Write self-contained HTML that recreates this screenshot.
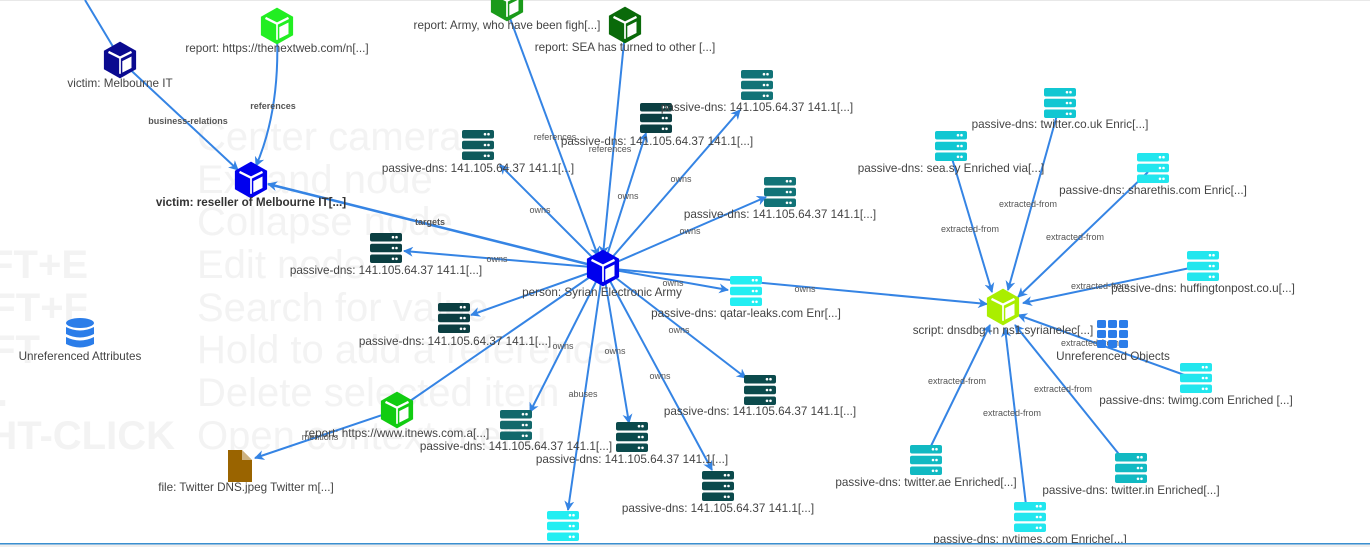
<!DOCTYPE html>
<html><head><meta charset="utf-8"><style>
html,body{margin:0;padding:0;background:#fff;}
svg{display:block;font-family:"Liberation Sans",sans-serif;}
.wm{fill:#f3f3f3;font-size:40px;}
.wb{fill:#f3f3f3;font-size:40px;font-weight:bold;}
.lb{fill:#444;font-size:11.7px;text-anchor:middle;}
.el{fill:#555;font-size:9px;text-anchor:middle;}
.e{stroke:#3584e4;stroke-width:2;fill:none;}
</style></head><body>
<svg width="1370" height="547" viewBox="0 0 1370 547">
<defs>
<marker id="a" markerWidth="10" markerHeight="10" refX="9" refY="5" orient="auto" markerUnits="userSpaceOnUse"><path d="M0,0 L10,5 L0,10 L3,5 z" fill="#3584e4"/></marker>
<g id="cube" transform="scale(1.15)"><polygon points="0,-16 14,-8 14,8 0,16 -14,8 -14,-8"/><polygon points="2,1 10,-3 10,7 2,11" fill="#fff"/><polyline points="-10,-7 0,-2 10,-7" stroke="#fff" stroke-width="2" fill="none"/><line x1="0" y1="-2" x2="0" y2="12" stroke="#fff" stroke-width="1.5"/></g>
<g id="srv"><rect x="-16" y="-15" width="32" height="8.5" rx="2"/><rect x="-16" y="-4.2" width="32" height="8.5" rx="2"/><rect x="-16" y="6.5" width="32" height="8.5" rx="2"/><g fill="#fff"><circle cx="7" cy="-10.8" r="1.3"/><circle cx="10.5" cy="-10.8" r="1.3"/><circle cx="7" cy="0" r="1.3"/><circle cx="10.5" cy="0" r="1.3"/><circle cx="7" cy="10.8" r="1.3"/><circle cx="10.5" cy="10.8" r="1.3"/></g></g>
</defs>
<rect x="0" y="0" width="1370" height="1" fill="#e8e8e8"/>
<g class="wm"><text x="197" y="150">Center camera</text><text x="197" y="193">Expand node</text><text x="197" y="235">Collapse node</text><text x="197" y="278">Edit node</text><text x="197" y="321">Search for value</text><text x="197" y="363">Hold to add a reference</text><text x="197" y="406">Delete selected item</text><text x="197" y="449">Open context menu</text></g>
<g class="wb" text-anchor="end"><text x="88" y="278">FT+E</text><text x="88" y="321">FT+F</text><text x="40" y="363">FT</text><text x="8" y="406">.</text><text x="175" y="449">HT-CLICK</text></g>
<g class="e">
<line x1="85" y1="0" x2="118" y2="55"/>
<line x1="122" y1="62" x2="238" y2="170" marker-end="url(#a)"/>
<path d="M277,34 Q280,110 256,166" marker-end="url(#a)"/>
<line x1="603" y1="268" x2="268" y2="184" marker-end="url(#a)" stroke-width="2.5"/>
<line x1="507" y1="10" x2="598" y2="256" marker-end="url(#a)"/>
<line x1="625" y1="32" x2="603" y2="255" marker-end="url(#a)"/>
<line x1="603" y1="268" x2="500" y2="165" marker-end="url(#a)"/>
<line x1="603" y1="268" x2="646" y2="133" marker-end="url(#a)"/>
<line x1="603" y1="268" x2="740" y2="110" marker-end="url(#a)"/>
<line x1="603" y1="268" x2="766" y2="197" marker-end="url(#a)"/>
<line x1="603" y1="268" x2="404" y2="251" marker-end="url(#a)"/>
<line x1="603" y1="268" x2="728" y2="290" marker-end="url(#a)"/>
<line x1="603" y1="268" x2="987" y2="304" marker-end="url(#a)"/>
<line x1="603" y1="268" x2="471" y2="315" marker-end="url(#a)"/>
<line x1="603" y1="268" x2="397" y2="410"/>
<line x1="397" y1="410" x2="255" y2="458" marker-end="url(#a)"/>
<line x1="603" y1="268" x2="530" y2="412" marker-end="url(#a)"/>
<line x1="603" y1="268" x2="568" y2="510" marker-end="url(#a)"/>
<line x1="603" y1="268" x2="629" y2="423" marker-end="url(#a)"/>
<line x1="603" y1="268" x2="712" y2="470" marker-end="url(#a)"/>
<line x1="603" y1="268" x2="746" y2="378" marker-end="url(#a)"/>
<line x1="951" y1="155" x2="992" y2="292" marker-end="url(#a)"/>
<line x1="1057" y1="115" x2="1008" y2="290" marker-end="url(#a)"/>
<line x1="1148" y1="172" x2="1018" y2="297" marker-end="url(#a)"/>
<line x1="1190" y1="268" x2="1023" y2="303" marker-end="url(#a)"/>
<line x1="1190" y1="377" x2="1018" y2="315" marker-end="url(#a)"/>
<line x1="930" y1="448" x2="990" y2="325" marker-end="url(#a)"/>
<line x1="1026" y1="505" x2="1005" y2="328" marker-end="url(#a)"/>
<line x1="1122" y1="458" x2="1015" y2="325" marker-end="url(#a)"/>
</g>
<g class="el">
<text x="188" y="124" font-weight="bold">business-relations</text>
<text x="273" y="109" font-weight="bold">references</text>
<text x="430" y="225" font-weight="bold">targets</text>
<text x="555" y="140">references</text>
<text x="610" y="152">references</text>
<text x="540" y="213">owns</text>
<text x="628" y="199">owns</text>
<text x="681" y="182">owns</text>
<text x="690" y="234">owns</text>
<text x="497" y="262">owns</text>
<text x="673" y="286">owns</text>
<text x="805" y="292">owns</text>
<text x="563" y="349">owns</text>
<text x="615" y="354">owns</text>
<text x="660" y="379">owns</text>
<text x="679" y="333">owns</text>
<text x="583" y="397">abuses</text>
<text x="320" y="440">mentions</text>
<text x="970" y="232">extracted-from</text>
<text x="1028" y="207">extracted-from</text>
<text x="1075" y="240">extracted-from</text>
<text x="1100" y="289">extracted-from</text>
<text x="1090" y="346">extracted-from</text>
<text x="957" y="384">extracted-from</text>
<text x="1012" y="416">extracted-from</text>
<text x="1063" y="392">extracted-from</text>
</g>
<use href="#cube" x="120" y="60" fill="#0a0a90"/>
<use href="#cube" x="277" y="26" fill="#22ee22"/>
<use href="#cube" x="251" y="180" fill="#0000ee"/>
<use href="#cube" x="507" y="3" fill="#1a9a1a"/>
<use href="#cube" x="625" y="25" fill="#0a6a0a"/>
<use href="#cube" x="603" y="268" fill="#0000ee"/>
<use href="#cube" x="397" y="410" fill="#11cc11"/>
<use href="#cube" x="1003" y="307" fill="#aaee00"/>
<use href="#srv" x="478" y="145" fill="#0f5a5c"/>
<use href="#srv" x="656" y="118" fill="#0b3f42"/>
<use href="#srv" x="757" y="85" fill="#127377"/>
<use href="#srv" x="780" y="192" fill="#127377"/>
<use href="#srv" x="386" y="248" fill="#0b3f42"/>
<use href="#srv" x="454" y="318" fill="#0b3f42"/>
<use href="#srv" x="760" y="390" fill="#0b4a4c"/>
<use href="#srv" x="516" y="425" fill="#12686b"/>
<use href="#srv" x="632" y="437" fill="#0b4a4c"/>
<use href="#srv" x="718" y="486" fill="#0b4a4c"/>
<use href="#srv" x="746" y="291" fill="#22eef2"/>
<use href="#srv" x="563" y="526" fill="#22eef2"/>
<use href="#srv" x="1060" y="103" fill="#11c7d2"/>
<use href="#srv" x="951" y="146" fill="#11c7d2"/>
<use href="#srv" x="1153" y="168" fill="#22e6ee"/>
<use href="#srv" x="1203" y="266" fill="#22e6ee"/>
<use href="#srv" x="1196" y="378" fill="#22e6ee"/>
<use href="#srv" x="926" y="460" fill="#11b9c2"/>
<use href="#srv" x="1030" y="517" fill="#22e6ee"/>
<use href="#srv" x="1131" y="468" fill="#11b9c2"/>
<g fill="#2b7de9"><ellipse cx="80" cy="323" rx="14" ry="5"/><path d="M66,327 q14,7 28,0 v7 q-14,7 -28,0z"/><path d="M66,337 q14,7 28,0 v7 q-14,7 -28,0z"/></g>
<g fill="#2b7de9"><rect x="1097" y="320" width="9" height="8" rx="1.5"/><rect x="1108" y="320" width="9" height="8" rx="1.5"/><rect x="1119" y="320" width="9" height="8" rx="1.5"/><rect x="1097" y="330" width="9" height="8" rx="1.5"/><rect x="1108" y="330" width="9" height="8" rx="1.5"/><rect x="1119" y="330" width="9" height="8" rx="1.5"/><rect x="1097" y="340" width="9" height="8" rx="1.5"/><rect x="1108" y="340" width="9" height="8" rx="1.5"/><rect x="1119" y="340" width="9" height="8" rx="1.5"/></g>
<path d="M228,450 h14 l10,10 v22 h-24z" fill="#9a6400"/><path d="M242,450 v10 h10z" fill="#fff" opacity="0.5"/>
<g class="lb">
<text x="120" y="87">victim: Melbourne IT</text>
<text x="277" y="52">report: https://thenextweb.com/n[...]</text>
<text x="251" y="206" font-weight="bold" fill="#333">victim: reseller of Melbourne IT[...]</text>
<text x="507" y="29">report: Army, who have been figh[...]</text>
<text x="625" y="51">report: SEA has turned to other [...]</text>
<text x="602" y="296">person: Syrian Electronic Army</text>
<text x="478" y="172">passive-dns: 141.105.64.37 141.1[...]</text>
<text x="657" y="145">passive-dns: 141.105.64.37 141.1[...]</text>
<text x="757" y="111">passive-dns: 141.105.64.37 141.1[...]</text>
<text x="780" y="218">passive-dns: 141.105.64.37 141.1[...]</text>
<text x="386" y="274">passive-dns: 141.105.64.37 141.1[...]</text>
<text x="455" y="345">passive-dns: 141.105.64.37 141.1[...]</text>
<text x="760" y="415">passive-dns: 141.105.64.37 141.1[...]</text>
<text x="516" y="450">passive-dns: 141.105.64.37 141.1[...]</text>
<text x="632" y="463">passive-dns: 141.105.64.37 141.1[...]</text>
<text x="718" y="512">passive-dns: 141.105.64.37 141.1[...]</text>
<text x="746" y="317">passive-dns: qatar-leaks.com Enr[...]</text>
<text x="397" y="437">report: https://www.itnews.com.a[...]</text>
<text x="246" y="491">file: Twitter DNS.jpeg Twitter m[...]</text>
<text x="80" y="360">Unreferenced Attributes</text>
<text x="1003" y="334">script: dnsdbg -n ns1.syrianelec[...]</text>
<text x="1113" y="360">Unreferenced Objects</text>
<text x="1060" y="128">passive-dns: twitter.co.uk Enric[...]</text>
<text x="951" y="172">passive-dns: sea.sy Enriched via[...]</text>
<text x="1153" y="194">passive-dns: sharethis.com Enric[...]</text>
<text x="1203" y="292">passive-dns: huffingtonpost.co.u[...]</text>
<text x="1196" y="404">passive-dns: twimg.com Enriched [...]</text>
<text x="926" y="486">passive-dns: twitter.ae Enriched[...]</text>
<text x="1030" y="543">passive-dns: nytimes.com Enriche[...]</text>
<text x="1131" y="494">passive-dns: twitter.in Enriched[...]</text>
</g>
<rect x="0" y="543" width="1370" height="1.5" fill="#3a8fd0"/>
<rect x="0" y="544.5" width="1370" height="3" fill="#eeeeee"/>
</svg>
</body></html>
